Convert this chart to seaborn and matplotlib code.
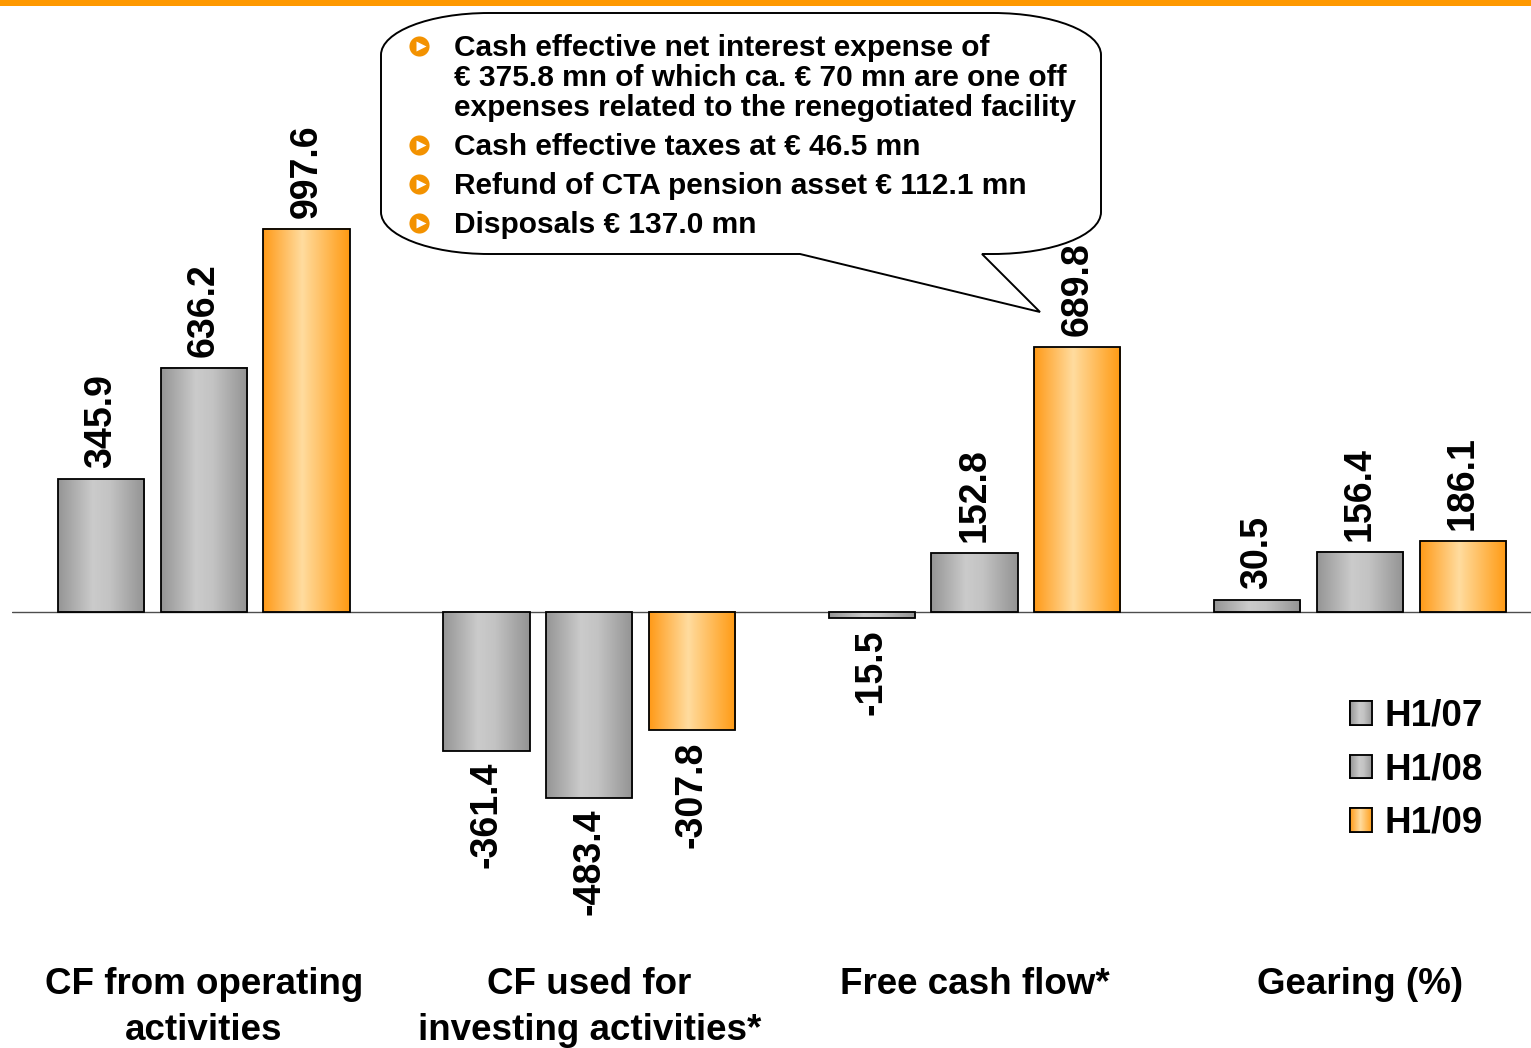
import numpy as np
import pandas as pd
import seaborn as sns
import matplotlib.pyplot as plt
from matplotlib.colors import LinearSegmentedColormap
from matplotlib.patches import Patch, PathPatch, Rectangle
from matplotlib.path import Path

# chart data
categories = ["CF from operating\nactivities", "CF used for\ninvesting activities*",
              "Free cash flow*", "Gearing (%)"]
periods = ["H1/07", "H1/08", "H1/09"]
h1_07 = [345.9, -361.4, -15.5, 30.5]
h1_08 = [636.2, -483.4, 152.8, 156.4]
h1_09 = [997.6, -307.8, 689.8, 186.1]

callout_bullets = [
    "Cash effective net interest expense of\n€ 375.8 mn of which ca. € 70 mn are one off\nexpenses related to the renegotiated facility",
    "Cash effective taxes at € 46.5 mn",
    "Refund of CTA pension asset € 112.1 mn",
    "Disposals € 137.0 mn",
]

df = pd.DataFrame({
    "category": categories * 3,
    "period": [p for p in periods for _ in categories],
    "value": h1_07 + h1_08 + h1_09,
})

sns.set_style("white")
plt.rcParams["font.family"] = ["Liberation Sans", "DejaVu Sans"]
plt.rcParams["text.color"] = "black"
plt.rcParams["xtick.labelcolor"] = "black"

GRAY_STOPS = [(0.0, "#959595"), (0.4, "#cbcbcb"), (0.6, "#c3c3c3"), (1.0, "#939393")]
ORANGE_STOPS = [(0.0, "#ff9a18"), (0.45, "#ffdc9f"), (1.0, "#ff9a12")]
palette = {"H1/07": "#b4b4b4", "H1/08": "#b4b4b4", "H1/09": "#ffbe5c"}
stops = {"H1/07": GRAY_STOPS, "H1/08": GRAY_STOPS, "H1/09": ORANGE_STOPS}


def gradient(stop_list, n=128):
    cmap = LinearSegmentedColormap.from_list("g", stop_list)
    return cmap(np.linspace(0, 1, n))[np.newaxis, :, :3]


def callout_path(x0, y0, x1, y1, rx, ry, tail):
    # rounded box with elliptical corners and a speech tail on the bottom edge
    k = 0.5523
    (ta, tip, tb) = tail  # right base, tip, left base
    verts = [
        (x0 + rx, y0), (x1 - rx, y0),
        (x1 - rx + k * rx, y0), (x1, y0 + ry - k * ry), (x1, y0 + ry),
        (x1, y1 - ry),
        (x1, y1 - ry + k * ry), (x1 - rx + k * rx, y1), (x1 - rx, y1),
        ta, tip, tb,
        (x0 + rx, y1),
        (x0 + rx - k * rx, y1), (x0, y1 - ry + k * ry), (x0, y1 - ry),
        (x0, y0 + ry),
        (x0, y0 + ry - k * ry), (x0 + rx - k * rx, y0), (x0 + rx, y0),
        (x0 + rx, y0),
    ]
    codes = [Path.MOVETO, Path.LINETO,
             Path.CURVE4, Path.CURVE4, Path.CURVE4,
             Path.LINETO,
             Path.CURVE4, Path.CURVE4, Path.CURVE4,
             Path.LINETO, Path.LINETO, Path.LINETO,
             Path.LINETO,
             Path.CURVE4, Path.CURVE4, Path.CURVE4,
             Path.LINETO,
             Path.CURVE4, Path.CURVE4, Path.CURVE4,
             Path.CLOSEPOLY]
    return Path(verts, codes)


W, H = 1531, 1048
fig = plt.figure(figsize=(W / 100, H / 100), dpi=100)
ax = fig.add_axes([12 / W, 98 / H, (W - 12) / W, 950 / H])

sns.barplot(data=df, x="category", y="value", hue="period", order=categories,
            hue_order=periods, palette=palette, saturation=1, gap=0.16,
            edgecolor="black", linewidth=1.3, legend=False, ax=ax)

# gradient fill + value labels
for period, container in zip(periods, ax.containers):
    img = gradient(stops[period])
    for bar in container:
        x0, w = bar.get_x(), bar.get_width()
        y0, h = bar.get_y(), bar.get_height()
        bar.set_facecolor("none")
        bar.set_zorder(3)
        ax.imshow(img, extent=[x0, x0 + w, min(y0, y0 + h), max(y0, y0 + h)],
                  aspect="auto", interpolation="bilinear", zorder=2)
        v = h
        ax.annotate(f"{v:.1f}", (x0 + w / 2, v), xytext=(0, 8 if v >= 0 else -8),
                    textcoords="offset points", rotation=90, ha="center",
                    va="bottom" if v >= 0 else "top", fontsize=27,
                    fontweight="bold", color="black")

ax.axhline(0, color="#4d4d4d", lw=1.0, zorder=1)
ax.set_xlim(-0.498, 3.444)
ax.set_ylim(-880, 1594)
ax.set_xticks(range(len(categories)))
ax.set_xticklabels(categories, fontsize=26.5, fontweight="bold", linespacing=1.42,
                   color="black")
ax.tick_params(axis="x", length=0, pad=12)
ax.set_yticks([])
ax.set_xlabel("")
ax.set_ylabel("")
for s in ax.spines.values():
    s.set_visible(False)

handles = [Patch(facecolor=palette[p], edgecolor="black", linewidth=1.3, label=p) for p in periods]
leg = ax.legend(handles=handles, loc="upper left", bbox_to_anchor=(1350 / W, 1 - 699 / H),
                bbox_transform=fig.transFigure, frameon=False,
                prop={"size": 26.5, "weight": "bold"}, labelcolor="black",
                handlelength=0.6, handleheight=0.6, handletextpad=0.35,
                labelspacing=0.5, borderpad=0, borderaxespad=0)

# overlay in pixel coordinates
ov = fig.add_axes([0, 0, 1, 1])
ov.axis("off")
ov.add_patch(Rectangle((0, 0), W, 5.5, color="#ff9900", lw=0))

box = callout_path(381, 13, 1101, 254, 108, 42, [(982, 254), (1040, 312), (800, 254)])
ov.add_patch(PathPatch(box, facecolor="white", edgecolor="black", lw=1.4, joinstyle="miter"))

y = 48
for txt in callout_bullets:
    ov.plot(419, y - 2, marker="o", ms=14.5, color="#f39200", mec="none", zorder=5)
    ov.plot(420.5, y - 2, marker=">", ms=7, color="white", mec="none", zorder=6)
    for line in txt.split("\n"):
        ov.text(454, y, line, fontsize=21.5, fontweight="bold", va="center", ha="left",
                color="black", zorder=5)
        y += 30
    y += 9

# gradient legend swatches
fig.canvas.draw()
renderer = fig.canvas.get_renderer()
for period, patch in zip(periods, leg.get_patches()):
    bb = patch.get_window_extent(renderer)
    ov.imshow(gradient(stops[period]), extent=[bb.x0, bb.x1, H - bb.y0, H - bb.y1],
              aspect="auto", interpolation="bilinear", zorder=7)
    ov.add_patch(Rectangle((bb.x0, H - bb.y1), bb.width, bb.height, facecolor="none",
                           edgecolor="black", lw=1.3, zorder=8))

ov.set_xlim(0, W)
ov.set_ylim(H, 0)

fig.savefig("out.png", dpi=100)
